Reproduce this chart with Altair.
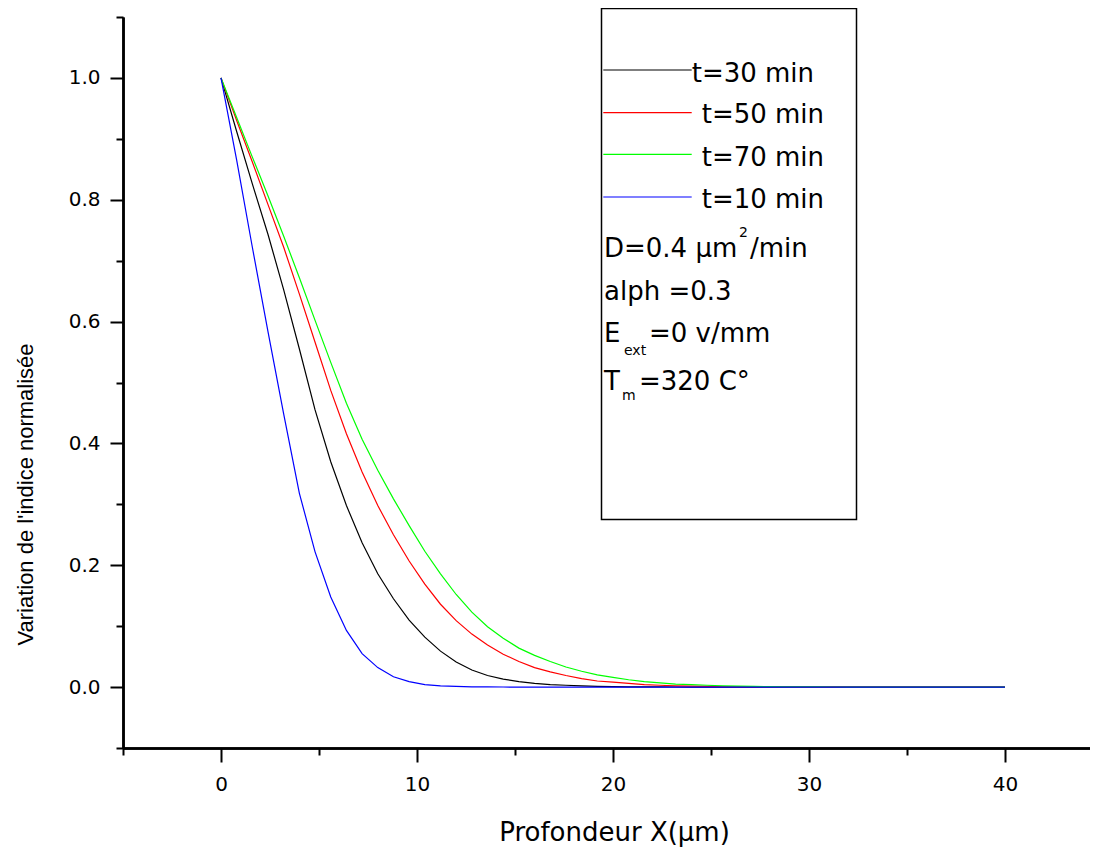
import altair as alt
import pandas as pd

# ---------------- data ----------------
x_um = [0.0, 0.8, 1.6, 2.4, 3.2, 4.0, 4.8, 5.6, 6.4, 7.2, 8.0, 8.8, 9.6, 10.4, 11.2,
        12.0, 12.8, 13.6, 14.4, 15.2, 16.0, 16.8, 17.6, 18.4, 19.2, 20.0, 20.8, 21.6,
        22.4, 23.2, 24.0, 24.8, 25.6, 26.4, 27.2, 28.0, 28.8, 29.6, 30.4, 31.2, 32.0,
        32.8, 33.6, 34.4, 35.2, 36.0, 36.8, 37.6, 38.4, 39.2, 40.0]

t30 = [1.000, 0.912, 0.826, 0.743, 0.652, 0.555, 0.455, 0.370, 0.298, 0.237, 0.186,
       0.145, 0.110, 0.082, 0.059, 0.041, 0.028, 0.019, 0.013, 0.009, 0.006, 0.004,
       0.003, 0.002, 0.0013, 0.0008, 0.0005, 0.0003, 0.0002, 0.0001, 0.0, 0.0, 0.0,
       0.0, 0.0, 0.0, 0.0, 0.0, 0.0, 0.0, 0.0, 0.0, 0.0, 0.0, 0.0, 0.0, 0.0, 0.0,
       0.0, 0.0, 0.0]

t50 = [1.000, 0.930, 0.862, 0.792, 0.722, 0.645, 0.566, 0.487, 0.416, 0.353, 0.298,
       0.250, 0.207, 0.169, 0.136, 0.109, 0.087, 0.069, 0.054, 0.042, 0.032, 0.025,
       0.019, 0.014, 0.010, 0.008, 0.006, 0.004, 0.003, 0.002, 0.0015, 0.001, 0.0007,
       0.0005, 0.0003, 0.0002, 0.0001, 0.0, 0.0, 0.0, 0.0, 0.0, 0.0, 0.0, 0.0, 0.0,
       0.0, 0.0, 0.0, 0.0, 0.0]

t70 = [1.000, 0.935, 0.870, 0.806, 0.740, 0.672, 0.602, 0.533, 0.466, 0.407, 0.356,
       0.309, 0.265, 0.223, 0.186, 0.152, 0.123, 0.099, 0.080, 0.064, 0.052, 0.042,
       0.033, 0.026, 0.020, 0.016, 0.012, 0.009, 0.007, 0.005, 0.004, 0.003, 0.002,
       0.0015, 0.001, 0.0007, 0.0005, 0.0003, 0.0002, 0.0001, 0.0, 0.0, 0.0, 0.0,
       0.0, 0.0, 0.0, 0.0, 0.0, 0.0, 0.0]

t10 = [1.000, 0.865, 0.722, 0.583, 0.448, 0.318, 0.222, 0.148, 0.093, 0.055, 0.032,
       0.017, 0.009, 0.004, 0.002, 0.001, 0.0005, 0.0002, 0.0001, 0.0, 0.0, 0.0, 0.0,
       0.0, 0.0, 0.0, 0.0, 0.0, 0.0, 0.0, 0.0, 0.0, 0.0, 0.0, 0.0, 0.0, 0.0, 0.0, 0.0,
       0.0, 0.0, 0.0, 0.0, 0.0, 0.0, 0.0, 0.0, 0.0, 0.0, 0.0, 0.0]

series_names = ["t=30 min", "t=50 min", "t=70 min", "t=10 min"]
series_values = [t30, t50, t70, t10]
series_colors = ["#000000", "#ff0000", "#00ff00", "#0000ff"]

x_major = [0, 10, 20, 30, 40]
x_minor = [-5, 5, 15, 25, 35]
y_major = [0.0, 0.2, 0.4, 0.6, 0.8, 1.0]
y_minor = [-0.1, 0.1, 0.3, 0.5, 0.7, 0.9, 1.1]

x_title = "Profondeur X(µm)"
y_title = "Variation de l'indice normalisée"

# ---------------- tables ----------------
rows = []
for name, vals in zip(series_names, series_values):
    for xv, yv in zip(x_um, vals):
        rows.append({"serie": name, "x": xv, "y": yv})
df = pd.DataFrame(rows)
one = pd.DataFrame({"k": [0]})

# plot origin on the page (8px margin + padding)
PAD_L, PAD_T = 115, 9
OX, OY = 8 + PAD_L, 8 + PAD_T
W, H = 967, 731


def px(a):
    return a - OX


def py(a):
    return a - OY


FONT = "DejaVu Sans"
TXT = 26
xscale = alt.Scale(domain=[-5, 44.34], nice=False, zero=False)
yscale = alt.Scale(domain=[-0.1, 1.1], nice=False, zero=False)
cscale = alt.Scale(domain=series_names, range=series_colors)

axis_common = dict(domainColor="black", domainWidth=2.5, tickColor="black",
                   tickWidth=2, grid=False, labelColor="black", labelFont=FONT,
                   labelFontSize=20)

x_axis_major = alt.Axis(values=x_major, format="d", orient="bottom", tickSize=14,
                        labelPadding=12, labelFlush=False, title=x_title,
                        titleFont=FONT, titleFontSize=26, titleFontWeight="normal",
                        titleColor="black", titleX=614 - OX, titleY=840 - (OY + H),
                        titleAlign="center", titleBaseline="alphabetic",
                        **axis_common)
y_axis_major = alt.Axis(values=y_major, format=".1f", orient="left", tickSize=13,
                        labelPadding=10, title=y_title,
                        titleFont="Liberation Sans",
                        titleFontSize=22, titleFontWeight="normal", titleColor="black",
                        titleAngle=270, titleX=25 - OX, titleY=494 - OY,
                        titleAlign="center", titleBaseline="middle", **axis_common)
x_axis_minor = alt.Axis(values=x_minor, orient="bottom", tickSize=7, labels=False,
                        title=None, **axis_common)
y_axis_minor = alt.Axis(values=y_minor, orient="left", tickSize=7, labels=False,
                        title=None, **axis_common)

lines = alt.Chart(df).mark_line(strokeWidth=1.2).encode(
    x=alt.X("x:Q", scale=xscale, axis=x_axis_major),
    y=alt.Y("y:Q", scale=yscale, axis=y_axis_major),
    color=alt.Color("serie:N", scale=cscale, legend=None),
)
minor = alt.Chart(df).mark_line(opacity=0).encode(
    x=alt.X("x:Q", scale=xscale, axis=x_axis_minor),
    y=alt.Y("y:Q", scale=yscale, axis=y_axis_minor),
    detail="serie:N",
)

# legend box
box = alt.Chart(one).mark_rect(filled=False, stroke="black", strokeWidth=1.5).encode(
    x=alt.value(px(601.5)), x2=alt.value(px(856.5)),
    y=alt.value(py(8.5)), y2=alt.value(py(519.5)),
)

layers = [lines, minor, box]

# legend entries
leg_line_y = [70, 112.7, 154.3, 197]
leg_text_x = [691.7, 701.7, 701.7, 701.7]
leg_text_base = [81.7, 123.3, 165.7, 208]
for name, col, ly, tx, tb in zip(series_names, series_colors, leg_line_y, leg_text_x,
                                 leg_text_base):
    layers.append(alt.Chart(one).mark_rule(color=col, strokeWidth=1.2).encode(
        x=alt.value(px(603.3)), x2=alt.value(px(691.7)), y=alt.value(py(ly))))
    layers.append(alt.Chart(one).mark_text(
        align="left", baseline="alphabetic", font=FONT, fontSize=TXT, color="black"
    ).encode(x=alt.value(px(tx)), y=alt.value(py(tb)), text=alt.value(name)))


def label(text, xa, ya, size=TXT):
    return alt.Chart(one).mark_text(
        align="left", baseline="alphabetic", font=FONT, fontSize=size, color="black"
    ).encode(x=alt.value(px(xa)), y=alt.value(py(ya)), text=alt.value(text))


layers += [
    label("D=0.4 µm", 604, 257.3),
    label("2", 739, 237, 14),
    label("/min", 750, 257.3),
    label("alph =0.3", 604, 300),
    label("E", 604, 341.7),
    label("ext", 624, 355, 14),
    label("=0 v/mm", 649, 341.7),
    label("T", 604, 390),
    label("m", 622, 400, 14),
    label("=320 C°", 639, 390),
]

chart = alt.layer(*layers).resolve_axis(x="independent", y="independent").properties(
    width=W, height=H,
    autosize=alt.AutoSizeParams(type="none"),
    padding={"left": PAD_L, "top": PAD_T, "right": 0, "bottom": 100},
).configure_view(stroke=None)

chart.save("out.html", embed_options={"renderer": "svg", "actions": False})
